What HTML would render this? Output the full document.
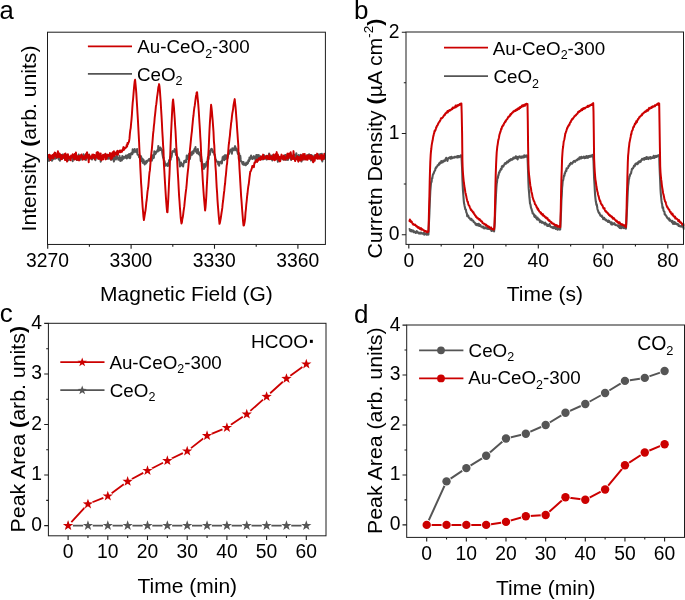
<!DOCTYPE html>
<html><head><meta charset="utf-8"><title>Figure</title>
<style>
html,body{margin:0;padding:0;background:#fff;}
body{width:685px;height:600px;overflow:hidden;font-family:'Liberation Sans', sans-serif;}
svg{display:block;will-change:transform;}
svg text{font-family:"Liberation Sans",sans-serif;}
</style></head>
<body>
<svg width="685" height="600" viewBox="0 0 685 600">
<rect x="0" y="0" width="685" height="600" fill="#ffffff"/>
<defs>
<clipPath id="ca"><rect x="47.5" y="32.2" width="277.9" height="212.25"/></clipPath>
</defs>
<g clip-path="url(#ca)">
<polyline points="47.5,161.7 47.9,159.1 48.3,157.4 48.7,158.7 49.1,160.9 49.5,157.2 49.9,157.0 50.3,159.5 50.7,158.4 51.1,158.7 51.5,156.8 51.9,160.7 52.3,160.3 52.7,158.5 53.1,158.7 53.5,154.4 53.9,158.6 54.3,157.3 54.7,158.3 55.1,158.7 55.5,157.1 55.9,154.9 56.3,158.2 56.7,156.4 57.1,157.1 57.5,156.6 57.9,157.1 58.3,153.9 58.7,159.5 59.1,158.0 59.5,159.4 59.9,160.8 60.3,157.6 60.7,154.7 61.1,156.2 61.5,155.7 61.9,156.8 62.3,157.7 62.7,154.4 63.1,158.1 63.5,155.2 63.9,158.1 64.3,157.4 64.7,157.1 65.1,157.5 65.5,156.7 65.9,156.6 66.3,154.9 66.7,157.6 67.1,160.6 67.5,160.8 67.9,159.7 68.3,158.7 68.7,156.5 69.1,159.9 69.5,157.5 69.9,157.5 70.3,157.1 70.7,157.7 71.1,156.9 71.5,157.5 71.9,155.9 72.3,157.0 72.7,161.2 73.1,157.5 73.5,157.2 73.9,158.5 74.3,158.7 74.7,155.8 75.1,157.3 75.5,159.1 75.9,158.0 76.3,157.8 76.7,160.1 77.1,156.5 77.5,157.7 77.9,156.8 78.3,160.0 78.7,154.5 79.1,156.5 79.5,156.8 79.9,158.7 80.3,158.6 80.7,159.8 81.1,155.1 81.5,158.8 81.9,157.1 82.3,156.5 82.7,158.5 83.1,156.1 83.5,154.3 83.9,157.0 84.3,155.2 84.7,156.6 85.1,158.2 85.5,158.1 85.9,160.1 86.3,157.3 86.7,155.1 87.1,156.4 87.5,156.1 87.9,155.7 88.3,158.3 88.7,156.6 89.1,154.4 89.5,158.7 89.9,157.4 90.3,158.2 90.7,157.8 91.1,158.6 91.5,157.7 91.9,159.6 92.3,158.3 92.7,158.2 93.1,158.3 93.5,155.3 93.9,157.3 94.3,157.2 94.7,157.9 95.1,155.4 95.5,160.2 95.9,157.8 96.3,155.7 96.7,154.9 97.1,157.1 97.5,157.5 97.9,156.5 98.3,157.7 98.7,156.6 99.1,158.5 99.5,156.4 99.9,157.5 100.3,159.2 100.7,161.7 101.1,156.0 101.5,156.9 101.9,156.3 102.3,158.9 102.7,155.8 103.1,156.8 103.5,157.6 103.9,156.0 104.3,156.1 104.7,156.8 105.1,154.2 105.5,155.3 105.9,156.9 106.3,157.8 106.7,157.3 107.1,154.8 107.5,156.9 107.9,158.9 108.3,158.5 108.7,157.5 109.1,156.2 109.5,158.6 109.9,156.7 110.3,155.7 110.7,156.3 111.1,159.9 111.5,158.0 111.9,159.5 112.3,156.8 112.7,159.1 113.1,156.6 113.5,157.3 113.9,161.6 114.3,158.8 114.7,156.8 115.1,157.5 115.5,158.1 115.9,159.5 116.3,156.8 116.7,154.8 117.1,157.2 117.5,157.6 117.9,157.8 118.3,159.7 118.7,158.1 119.1,158.9 119.5,155.8 119.9,159.0 120.3,161.0 120.7,158.8 121.1,158.0 121.5,157.8 121.9,160.4 122.3,156.1 122.7,157.4 123.1,158.3 123.5,158.7 123.9,156.8 124.3,157.9 124.7,157.0 125.1,157.6 125.5,157.1 125.9,155.5 126.3,157.2 126.7,158.6 127.1,155.6 127.5,156.7 127.9,157.8 128.3,154.7 128.7,156.3 129.1,153.9 129.5,156.9 129.9,158.3 130.3,157.4 130.7,153.4 131.1,154.5 131.5,153.0 131.9,152.5 132.3,154.3 132.7,149.2 133.1,152.5 133.5,150.4 133.9,152.4 134.3,150.3 134.7,148.9 135.1,150.6 135.5,151.6 135.9,150.9 136.3,152.1 136.7,151.0 137.1,149.0 137.5,154.5 137.9,154.9 138.3,154.7 138.7,155.2 139.1,157.4 139.5,155.6 139.9,155.7 140.3,157.1 140.7,159.8 141.1,156.3 141.5,161.0 141.9,158.6 142.3,158.5 142.7,162.8 143.1,161.1 143.5,159.6 143.9,161.5 144.3,163.8 144.7,164.4 145.1,161.8 145.5,163.1 145.9,163.5 146.3,161.1 146.7,162.5 147.1,161.7 147.5,160.5 147.9,160.3 148.3,160.8 148.7,160.4 149.1,159.0 149.5,158.8 149.9,160.9 150.3,159.0 150.7,159.7 151.1,159.8 151.5,158.4 151.9,160.7 152.3,155.4 152.7,157.6 153.1,155.3 153.5,158.3 153.9,157.6 154.3,151.2 154.7,152.2 155.1,154.3 155.5,153.9 155.9,153.3 156.3,151.5 156.7,151.9 157.1,151.7 157.5,150.1 157.9,151.5 158.3,145.9 158.7,150.2 159.1,147.4 159.5,150.4 159.9,148.4 160.3,147.5 160.7,149.9 161.1,148.5 161.5,149.5 161.9,149.6 162.3,153.3 162.7,155.5 163.1,157.9 163.5,157.5 163.9,160.9 164.3,160.6 164.7,161.8 165.1,164.0 165.5,165.8 165.9,164.3 166.3,164.9 166.7,165.2 167.1,165.5 167.5,163.5 167.9,166.0 168.3,162.9 168.7,163.3 169.1,160.1 169.5,160.8 169.9,159.7 170.3,157.1 170.7,159.8 171.1,155.9 171.5,157.1 171.9,154.7 172.3,151.3 172.7,151.1 173.1,151.9 173.5,151.1 173.9,151.1 174.3,150.9 174.7,148.9 175.1,152.1 175.5,149.7 175.9,154.8 176.3,154.0 176.7,155.1 177.1,157.0 177.5,158.9 177.9,157.3 178.3,157.8 178.7,159.9 179.1,159.3 179.5,161.8 179.9,166.5 180.3,162.8 180.7,165.8 181.1,162.6 181.5,165.2 181.9,164.1 182.3,164.2 182.7,164.9 183.1,166.5 183.5,163.5 183.9,162.9 184.3,160.7 184.7,162.6 185.1,160.7 185.5,161.9 185.9,159.9 186.3,162.1 186.7,155.6 187.1,157.7 187.5,159.1 187.9,156.6 188.3,155.4 188.7,155.9 189.1,153.7 189.5,155.7 189.9,159.1 190.3,156.6 190.7,152.7 191.1,152.6 191.5,153.0 191.9,154.9 192.3,151.6 192.7,151.4 193.1,153.6 193.5,153.3 193.9,151.0 194.3,149.5 194.7,148.6 195.1,149.7 195.5,147.1 195.9,151.7 196.3,149.4 196.7,151.1 197.1,153.3 197.5,152.4 197.9,149.1 198.3,153.0 198.7,154.3 199.1,152.3 199.5,153.1 199.9,155.7 200.3,154.7 200.7,160.9 201.1,156.1 201.5,159.5 201.9,162.1 202.3,163.4 202.7,165.1 203.1,166.2 203.5,166.2 203.9,168.9 204.3,164.0 204.7,167.5 205.1,166.0 205.5,166.7 205.9,165.9 206.3,162.9 206.7,161.9 207.1,162.7 207.5,160.3 207.9,157.0 208.3,159.7 208.7,158.5 209.1,151.0 209.5,152.5 209.9,154.9 210.3,151.4 210.7,150.0 211.1,149.2 211.5,148.8 211.9,149.7 212.3,149.6 212.7,152.3 213.1,151.3 213.5,152.1 213.9,151.8 214.3,154.6 214.7,154.3 215.1,156.5 215.5,159.5 215.9,159.5 216.3,160.7 216.7,161.3 217.1,161.7 217.5,162.1 217.9,162.4 218.3,164.5 218.7,161.8 219.1,165.7 219.5,163.6 219.9,162.2 220.3,162.4 220.7,161.8 221.1,162.8 221.5,161.0 221.9,163.5 222.3,159.9 222.7,157.0 223.1,158.9 223.5,156.3 223.9,158.9 224.3,160.1 224.7,158.9 225.1,155.1 225.5,155.5 225.9,159.1 226.3,156.2 226.7,155.3 227.1,156.6 227.5,158.4 227.9,156.2 228.3,153.9 228.7,153.8 229.1,153.8 229.5,151.4 229.9,150.2 230.3,151.6 230.7,149.5 231.1,150.6 231.5,150.4 231.9,153.7 232.3,148.2 232.7,149.1 233.1,148.8 233.5,149.6 233.9,150.4 234.3,147.8 234.7,147.3 235.1,146.1 235.5,147.5 235.9,150.2 236.3,150.0 236.7,148.9 237.1,150.7 237.5,152.2 237.9,153.9 238.3,153.1 238.7,154.7 239.1,153.2 239.5,155.4 239.9,160.8 240.3,155.8 240.7,159.7 241.1,161.6 241.5,161.5 241.9,161.6 242.3,163.5 242.7,164.1 243.1,164.4 243.5,161.9 243.9,164.8 244.3,163.6 244.7,163.9 245.1,164.9 245.5,165.2 245.9,165.2 246.3,162.4 246.7,164.2 247.1,164.1 247.5,163.5 247.9,163.4 248.3,160.4 248.7,160.0 249.1,161.2 249.5,157.4 249.9,159.6 250.3,158.1 250.7,158.0 251.1,155.5 251.5,156.6 251.9,157.8 252.3,159.1 252.7,159.1 253.1,157.4 253.5,157.2 253.9,156.1 254.3,158.1 254.7,157.0 255.1,158.4 255.5,160.2 255.9,157.3 256.3,155.0 256.7,156.0 257.1,155.0 257.5,155.4 257.9,159.4 258.3,157.7 258.7,154.9 259.1,158.3 259.5,159.3 259.9,156.7 260.3,156.2 260.7,156.8 261.1,157.8 261.5,158.3 261.9,159.2 262.3,159.2 262.7,159.2 263.1,159.5 263.5,158.4 263.9,154.9 264.3,157.1 264.7,157.8 265.1,156.7 265.5,158.8 265.9,156.7 266.3,155.8 266.7,159.6 267.1,158.4 267.5,157.7 267.9,158.8 268.3,159.0 268.7,157.8 269.1,153.4 269.5,156.2 269.9,156.6 270.3,155.7 270.7,157.6 271.1,159.2 271.5,156.5 271.9,155.5 272.3,160.5 272.7,156.6 273.1,155.3 273.5,157.7 273.9,158.0 274.3,156.2 274.7,158.6 275.1,156.5 275.5,155.8 275.9,157.6 276.3,158.5 276.7,156.3 277.1,157.8 277.5,157.2 277.9,161.8 278.3,156.2 278.7,159.5 279.1,157.2 279.5,157.1 279.9,158.5 280.3,158.7 280.7,159.3 281.1,157.8 281.5,156.3 281.9,156.4 282.3,158.1 282.7,158.2 283.1,159.5 283.5,158.0 283.9,159.0 284.3,159.7 284.7,157.6 285.1,154.9 285.5,155.4 285.9,155.0 286.3,159.8 286.7,155.9 287.1,159.3 287.5,158.2 287.9,160.0 288.3,158.9 288.7,157.1 289.1,157.0 289.5,157.4 289.9,157.6 290.3,156.5 290.7,157.2 291.1,159.9 291.5,154.6 291.9,157.7 292.3,155.8 292.7,157.6 293.1,158.6 293.5,157.2 293.9,158.5 294.3,154.8 294.7,159.1 295.1,156.3 295.5,158.3 295.9,157.6 296.3,153.2 296.7,156.1 297.1,157.7 297.5,159.8 297.9,157.8 298.3,157.7 298.7,155.0 299.1,159.6 299.5,160.2 299.9,157.3 300.3,156.9 300.7,154.7 301.1,158.7 301.5,161.6 301.9,158.4 302.3,159.3 302.7,158.2 303.1,155.7 303.5,159.4 303.9,155.3 304.3,157.0 304.7,157.7 305.1,158.7 305.5,158.0 305.9,157.9 306.3,156.1 306.7,155.2 307.1,157.4 307.5,156.2 307.9,155.2 308.3,155.3 308.7,156.5 309.1,154.3 309.5,155.1 309.9,154.7 310.3,157.6 310.7,158.0 311.1,160.5 311.5,154.9 311.9,156.2 312.3,158.8 312.7,157.0 313.1,156.8 313.5,160.0 313.9,156.8 314.3,155.5 314.7,155.2 315.1,157.8 315.5,157.8 315.9,155.1 316.3,155.7 316.7,158.2 317.1,158.2 317.5,156.3 317.9,158.3 318.3,158.2 318.7,154.4 319.1,156.8 319.5,158.0 319.9,156.4 320.3,153.9 320.7,156.8 321.1,158.5 321.5,159.8 321.9,153.8 322.3,161.5 322.7,155.5 323.1,158.8 323.5,159.3 323.9,158.9 324.3,157.5 324.7,155.4 325.1,158.3" fill="none" stroke="#555555" stroke-width="2.0" stroke-linejoin="round" stroke-linecap="butt" />
<polyline points="47.5,157.0 47.9,157.7 48.3,156.4 48.7,155.0 49.1,156.0 49.5,154.7 49.9,157.1 50.3,160.1 50.7,155.9 51.1,155.6 51.5,158.1 51.9,157.8 52.3,157.2 52.7,154.9 53.1,156.9 53.5,158.6 53.9,153.9 54.3,155.9 54.7,152.6 55.1,154.0 55.5,152.8 55.9,156.5 56.3,154.1 56.7,157.6 57.1,157.4 57.5,156.6 57.9,151.2 58.3,155.8 58.7,156.9 59.1,157.3 59.5,153.5 59.9,155.9 60.3,154.7 60.7,155.1 61.1,159.4 61.5,155.1 61.9,156.9 62.3,159.0 62.7,155.7 63.1,156.7 63.5,157.3 63.9,157.1 64.3,154.2 64.7,157.2 65.1,160.1 65.5,153.4 65.9,159.0 66.3,157.3 66.7,155.5 67.1,161.6 67.5,158.8 67.9,154.2 68.3,157.2 68.7,158.3 69.1,156.6 69.5,158.6 69.9,156.8 70.3,158.5 70.7,160.3 71.1,155.4 71.5,157.5 71.9,155.9 72.3,157.3 72.7,154.3 73.1,155.7 73.5,156.5 73.9,159.1 74.3,159.6 74.7,154.0 75.1,155.2 75.5,158.5 75.9,152.4 76.3,155.9 76.7,156.8 77.1,159.9 77.5,158.6 77.9,156.2 78.3,156.2 78.7,156.4 79.1,160.5 79.5,156.0 79.9,156.3 80.3,157.8 80.7,156.7 81.1,156.5 81.5,154.4 81.9,157.0 82.3,156.0 82.7,159.7 83.1,158.5 83.5,156.9 83.9,158.5 84.3,156.2 84.7,159.4 85.1,157.0 85.5,158.3 85.9,154.0 86.3,157.8 86.7,153.1 87.1,152.3 87.5,156.3 87.9,154.9 88.3,157.4 88.7,162.2 89.1,155.1 89.5,155.6 89.9,157.5 90.3,158.1 90.7,156.6 91.1,156.5 91.5,158.6 91.9,158.2 92.3,154.6 92.7,156.8 93.1,157.1 93.5,154.6 93.9,157.6 94.3,155.0 94.7,159.2 95.1,157.4 95.5,157.2 95.9,155.6 96.3,156.7 96.7,152.4 97.1,154.4 97.5,157.8 97.9,152.1 98.3,158.9 98.7,153.0 99.1,158.7 99.5,155.1 99.9,158.8 100.3,157.3 100.7,153.5 101.1,159.9 101.5,160.3 101.9,156.8 102.3,156.3 102.7,156.5 103.1,154.7 103.5,159.3 103.9,155.6 104.3,156.7 104.7,154.9 105.1,155.3 105.5,153.8 105.9,159.4 106.3,156.2 106.7,158.6 107.1,156.4 107.5,154.8 107.9,155.6 108.3,155.0 108.7,156.2 109.1,155.3 109.5,155.4 109.9,153.0 110.3,154.1 110.7,159.3 111.1,154.3 111.5,153.4 111.9,156.2 112.3,158.3 112.7,152.3 113.1,154.7 113.5,153.7 113.9,151.3 114.3,156.1 114.7,154.4 115.1,154.3 115.5,152.6 115.9,154.6 116.3,152.5 116.7,153.0 117.1,151.1 117.5,150.7 117.9,154.8 118.3,151.5 118.7,152.6 119.1,151.8 119.5,150.9 119.9,150.6 120.3,152.2 120.7,150.5 121.1,150.5 121.5,150.5 121.9,151.9 122.3,150.9 122.7,150.1 123.1,148.5 123.5,147.1 123.9,149.9 124.3,149.5 124.7,147.7 125.1,148.1 125.5,148.0 125.9,147.6 126.3,147.2 126.7,145.0 127.1,146.6 127.5,142.9 127.9,144.3 128.3,143.0 128.7,142.2 129.1,141.2 129.5,138.4 129.9,133.6 130.3,130.1 130.7,128.1 131.1,123.5 131.5,119.6 131.9,114.7 132.3,108.1 132.7,102.6 133.1,99.0 133.5,94.1 133.9,89.0 134.3,84.8 134.7,81.3 135.1,79.8 135.5,83.9 135.9,88.2 136.3,93.2 136.7,100.0 137.1,106.2 137.5,113.2 137.9,119.7 138.3,127.3 138.7,134.7 139.1,142.3 139.5,151.4 139.9,157.4 140.3,167.2 140.7,174.7 141.1,183.1 141.5,188.2 141.9,196.1 142.3,201.9 142.7,207.7 143.1,212.2 143.5,217.1 143.9,220.0 144.3,217.5 144.7,215.2 145.1,212.5 145.5,210.3 145.9,206.8 146.3,202.7 146.7,200.0 147.1,195.9 147.5,191.6 147.9,189.2 148.3,186.3 148.7,181.6 149.1,176.6 149.5,172.5 149.9,170.4 150.3,165.1 150.7,160.7 151.1,156.1 151.5,152.0 151.9,148.6 152.3,143.8 152.7,139.1 153.1,133.9 153.5,130.7 153.9,125.9 154.3,122.8 154.7,117.6 155.1,114.3 155.5,110.6 155.9,106.4 156.3,104.2 156.7,100.7 157.1,96.8 157.5,94.3 157.9,91.3 158.3,87.5 158.7,86.3 159.1,84.1 159.5,86.5 159.9,90.6 160.3,96.2 160.7,102.1 161.1,109.1 161.5,115.6 161.9,122.7 162.3,131.2 162.7,137.6 163.1,145.4 163.5,150.4 163.9,164.2 164.3,170.3 164.7,177.4 165.1,184.3 165.5,190.7 165.9,197.1 166.3,202.6 166.7,207.7 167.1,212.1 167.5,212.2 167.9,206.0 168.3,198.6 168.7,190.3 169.1,181.3 169.5,173.8 169.9,163.3 170.3,152.7 170.7,142.4 171.1,132.5 171.5,124.2 171.9,116.3 172.3,108.4 172.7,102.3 173.1,99.4 173.5,103.3 173.9,107.1 174.3,112.9 174.7,118.2 175.1,125.2 175.5,130.8 175.9,138.5 176.3,146.8 176.7,151.8 177.1,158.5 177.5,167.2 177.9,174.3 178.3,180.8 178.7,188.6 179.1,196.0 179.5,201.3 179.9,207.2 180.3,212.2 180.7,217.7 181.1,221.2 181.5,223.5 181.9,222.4 182.3,219.2 182.7,217.6 183.1,215.1 183.5,211.7 183.9,208.8 184.3,206.2 184.7,201.9 185.1,198.2 185.5,194.3 185.9,191.2 186.3,188.2 186.7,184.0 187.1,178.8 187.5,174.7 187.9,170.8 188.3,167.5 188.7,162.7 189.1,159.3 189.5,155.2 189.9,150.0 190.3,146.3 190.7,142.4 191.1,138.1 191.5,134.5 191.9,131.3 192.3,126.6 192.7,122.6 193.1,118.1 193.5,115.5 193.9,111.1 194.3,108.0 194.7,105.9 195.1,102.9 195.5,99.7 195.9,96.5 196.3,94.7 196.7,92.4 197.1,92.3 197.5,96.7 197.9,100.3 198.3,104.9 198.7,110.3 199.1,116.8 199.5,123.2 199.9,129.3 200.3,137.0 200.7,142.8 201.1,152.8 201.5,160.5 201.9,166.8 202.3,171.8 202.7,179.3 203.1,185.3 203.5,191.2 203.9,196.8 204.3,201.4 204.7,205.8 205.1,210.5 205.5,207.6 205.9,202.5 206.3,196.5 206.7,188.0 207.1,180.6 207.5,173.0 207.9,164.9 208.3,154.8 208.7,148.3 209.1,138.7 209.5,129.8 209.9,122.6 210.3,116.7 210.7,110.6 211.1,104.8 211.5,107.7 211.9,111.4 212.3,116.4 212.7,120.7 213.1,126.4 213.5,131.9 213.9,141.1 214.3,145.4 214.7,155.1 215.1,158.1 215.5,166.6 215.9,171.8 216.3,180.0 216.7,187.5 217.1,192.8 217.5,200.1 217.9,205.6 218.3,210.5 218.7,215.6 219.1,219.9 219.5,223.8 219.9,222.9 220.3,220.7 220.7,218.6 221.1,215.8 221.5,213.0 221.9,210.6 222.3,207.9 222.7,203.7 223.1,201.0 223.5,197.2 223.9,193.5 224.3,190.7 224.7,186.2 225.1,183.5 225.5,178.1 225.9,175.0 226.3,170.5 226.7,165.7 227.1,163.5 227.5,158.2 227.9,155.7 228.3,150.4 228.7,145.2 229.1,142.5 229.5,138.7 229.9,135.6 230.3,130.6 230.7,127.5 231.1,123.2 231.5,121.0 231.9,116.9 232.3,113.5 232.7,111.4 233.1,109.1 233.5,105.4 233.9,103.2 234.3,101.2 234.7,99.1 235.1,103.2 235.5,106.7 235.9,111.4 236.3,117.1 236.7,122.0 237.1,128.5 237.5,133.9 237.9,139.9 238.3,145.4 238.7,158.2 239.1,160.9 239.5,168.7 239.9,175.2 240.3,182.1 240.7,188.7 241.1,195.9 241.5,200.6 241.9,206.2 242.3,211.8 242.7,216.5 243.1,221.7 243.5,225.5 243.9,225.4 244.3,223.8 244.7,221.5 245.1,218.6 245.5,212.7 245.9,209.5 246.3,204.3 246.7,201.0 247.1,196.3 247.5,193.5 247.9,189.5 248.3,186.4 248.7,184.5 249.1,181.1 249.5,177.4 249.9,174.5 250.3,171.5 250.7,171.3 251.1,170.4 251.5,169.2 251.9,168.2 252.3,166.0 252.7,166.4 253.1,165.7 253.5,166.8 253.9,167.1 254.3,163.6 254.7,162.2 255.1,162.8 255.5,161.5 255.9,160.9 256.3,161.6 256.7,159.6 257.1,162.1 257.5,160.6 257.9,160.9 258.3,159.9 258.7,158.6 259.1,158.0 259.5,159.2 259.9,158.5 260.3,159.9 260.7,159.3 261.1,156.5 261.5,159.3 261.9,156.4 262.3,157.7 262.7,158.3 263.1,154.6 263.5,158.9 263.9,159.0 264.3,158.3 264.7,157.7 265.1,157.7 265.5,156.4 265.9,157.8 266.3,157.2 266.7,158.5 267.1,155.7 267.5,158.7 267.9,158.5 268.3,157.8 268.7,157.2 269.1,159.2 269.5,154.5 269.9,159.0 270.3,158.5 270.7,158.6 271.1,158.8 271.5,156.5 271.9,157.3 272.3,159.2 272.7,158.8 273.1,158.3 273.5,154.5 273.9,158.9 274.3,160.3 274.7,159.9 275.1,158.2 275.5,154.3 275.9,159.7 276.3,157.3 276.7,152.1 277.1,158.4 277.5,154.3 277.9,154.7 278.3,156.2 278.7,160.4 279.1,156.7 279.5,158.1 279.9,161.4 280.3,161.0 280.7,157.2 281.1,156.9 281.5,154.6 281.9,155.9 282.3,158.4 282.7,158.3 283.1,157.6 283.5,159.6 283.9,155.6 284.3,157.2 284.7,159.0 285.1,158.7 285.5,159.7 285.9,158.2 286.3,156.6 286.7,158.1 287.1,155.1 287.5,153.6 287.9,158.6 288.3,157.2 288.7,158.0 289.1,153.5 289.5,156.5 289.9,155.9 290.3,155.4 290.7,152.2 291.1,156.5 291.5,159.3 291.9,158.2 292.3,155.9 292.7,157.3 293.1,159.0 293.5,151.1 293.9,157.0 294.3,158.5 294.7,158.8 295.1,161.1 295.5,159.9 295.9,158.0 296.3,158.0 296.7,159.1 297.1,156.1 297.5,157.2 297.9,159.3 298.3,161.7 298.7,156.9 299.1,157.2 299.5,157.7 299.9,160.3 300.3,157.2 300.7,160.6 301.1,155.1 301.5,156.9 301.9,156.9 302.3,159.1 302.7,159.7 303.1,153.9 303.5,155.2 303.9,158.1 304.3,155.8 304.7,153.9 305.1,159.6 305.5,158.4 305.9,158.4 306.3,156.2 306.7,159.6 307.1,156.8 307.5,159.8 307.9,155.2 308.3,155.4 308.7,157.8 309.1,155.7 309.5,158.8 309.9,157.9 310.3,155.2 310.7,157.5 311.1,156.5 311.5,159.4 311.9,155.9 312.3,156.3 312.7,160.0 313.1,162.3 313.5,161.8 313.9,157.4 314.3,157.8 314.7,160.8 315.1,157.0 315.5,155.1 315.9,157.6 316.3,158.3 316.7,155.4 317.1,153.6 317.5,154.1 317.9,158.8 318.3,155.6 318.7,157.0 319.1,157.8 319.5,158.7 319.9,156.5 320.3,158.4 320.7,155.3 321.1,156.5 321.5,155.0 321.9,159.8 322.3,157.2 322.7,155.6 323.1,156.5 323.5,156.8 323.9,158.9 324.3,153.7 324.7,155.0 325.1,156.4" fill="none" stroke="#cc0000" stroke-width="1.95" stroke-linejoin="round" stroke-linecap="butt" />
</g>
<rect x="47.5" y="32.2" width="277.9" height="212.25" fill="none" stroke="#1c1c1c" stroke-width="1.0"/>
<path d="M47.70,244.45v4.2 M131.10,244.45v4.2 M214.50,244.45v4.2 M297.90,244.45v4.2" stroke="#1c1c1c" stroke-width="1.1" fill="none"/>
<path d="M89.40,244.45v2.2 M172.80,244.45v2.2 M256.20,244.45v2.2" stroke="#1c1c1c" stroke-width="1.1" fill="none"/>
<text x="47.5" y="266.6" font-size="19.3" text-anchor="middle" fill="#000" >3270</text>
<text x="130.9" y="266.6" font-size="19.3" text-anchor="middle" fill="#000" >3300</text>
<text x="214.3" y="266.6" font-size="19.3" text-anchor="middle" fill="#000" >3330</text>
<text x="297.7" y="266.6" font-size="19.3" text-anchor="middle" fill="#000" >3360</text>
<text x="186.45" y="301.2" font-size="21" text-anchor="middle" fill="#000" >Magnetic Field (G)</text>
<text transform="translate(36.25,231.5) rotate(-90)" font-size="21" text-anchor="start" fill="#000" textLength="186" lengthAdjust="spacingAndGlyphs">Intensity <tspan font-weight="bold">(</tspan>arb. units)</text>
<text x="-0.6" y="19.2" font-size="25.6" text-anchor="start" fill="#000" >a</text>
<path d="M87.9,46.3H132" stroke="#cc0000" stroke-width="1.8"/>
<path d="M87.9,73.9H132" stroke="#555555" stroke-width="1.8"/>
<text x="137.3" y="53.1" font-size="18.8" text-anchor="start" fill="#000" >Au-CeO<tspan font-size="12.5" dy="4.7">2</tspan><tspan dy="-4.7">-300</tspan></text>
<text x="136.9" y="80.7" font-size="18.8" text-anchor="start" fill="#000" >CeO<tspan font-size="12.5" dy="4.7">2</tspan></text>
<defs>
<clipPath id="cb"><rect x="406.0" y="32.0" width="278.5" height="212.4"/></clipPath>
</defs>
<g clip-path="url(#cb)">
<polyline points="409.3,229.4 409.6,229.0 409.9,230.2 410.3,230.9 410.6,230.9 410.9,230.1 411.2,231.4 411.6,230.0 411.9,230.2 412.2,231.1 412.5,230.8 412.8,230.8 413.2,230.5 413.5,232.1 413.8,230.9 414.1,231.9 414.5,232.2 414.8,231.8 415.1,232.0 415.4,232.6 415.8,233.0 416.1,232.7 416.4,231.3 416.7,231.1 417.1,232.0 417.4,231.7 417.7,232.8 418.0,232.6 418.4,232.5 418.7,233.4 419.0,233.4 419.3,232.8 419.6,233.1 420.0,233.6 420.3,232.8 420.6,233.3 420.9,232.5 421.3,233.2 421.6,233.4 421.9,233.2 422.2,233.5 422.6,233.8 422.9,233.7 423.2,233.1 423.5,233.2 423.9,232.8 424.2,234.7 424.5,233.9 424.8,234.0 425.1,233.7 425.5,234.1 425.8,234.2 426.1,233.4 426.4,233.9 426.8,234.7 427.1,233.2 427.4,233.5 427.7,234.5 428.1,233.6 428.4,234.6 428.7,228.2 429.0,221.9 429.4,213.8 429.7,205.3 430.0,197.7 430.3,191.2 430.7,186.5 431.0,183.2 431.3,181.6 431.6,181.9 431.9,178.3 432.3,178.4 432.6,176.1 432.9,174.6 433.2,174.1 433.6,173.6 433.9,172.6 434.2,171.8 434.5,171.3 434.9,170.6 435.2,170.2 435.5,168.2 435.8,168.3 436.2,167.2 436.5,167.4 436.8,166.7 437.1,166.4 437.5,165.6 437.8,165.1 438.1,165.1 438.4,165.3 438.7,165.1 439.1,163.3 439.4,164.2 439.7,163.9 440.0,162.6 440.4,162.5 440.7,162.6 441.0,162.9 441.3,161.0 441.7,161.9 442.0,161.6 442.3,161.8 442.6,162.3 443.0,162.0 443.3,160.7 443.6,160.5 443.9,160.7 444.3,161.1 444.6,161.1 444.9,160.2 445.2,160.7 445.5,159.1 445.9,158.8 446.2,157.7 446.5,158.7 446.8,159.4 447.2,159.5 447.5,160.9 447.8,159.0 448.1,158.7 448.5,157.9 448.8,158.0 449.1,157.9 449.4,158.0 449.8,157.7 450.1,157.1 450.4,158.6 450.7,158.1 451.0,158.6 451.4,156.8 451.7,156.9 452.0,157.2 452.3,158.3 452.7,157.5 453.0,157.7 453.3,157.4 453.6,157.5 454.0,157.1 454.3,157.6 454.6,156.8 454.9,157.1 455.3,157.3 455.6,157.2 455.9,157.3 456.2,156.5 456.6,157.0 456.9,156.6 457.2,157.0 457.5,157.5 457.8,156.0 458.2,157.1 458.5,156.0 458.8,156.1 459.1,157.2 459.5,156.7 459.8,156.4 460.1,156.5 460.4,156.7 460.8,155.4 461.1,156.0 461.4,155.5 461.7,160.3 462.1,168.8 462.4,179.2 462.7,185.7 463.0,191.0 463.4,196.0 463.7,200.0 464.0,203.0 464.3,204.3 464.6,205.9 465.0,207.7 465.3,209.3 465.6,209.7 465.9,209.6 466.3,212.3 466.6,212.9 466.9,213.7 467.2,216.2 467.6,215.2 467.9,216.2 468.2,215.5 468.5,216.9 468.9,217.7 469.2,217.7 469.5,217.9 469.8,218.7 470.2,218.7 470.5,219.8 470.8,219.5 471.1,219.2 471.4,218.8 471.8,219.9 472.1,220.5 472.4,220.2 472.7,220.6 473.1,220.5 473.4,221.1 473.7,222.1 474.0,222.1 474.4,222.4 474.7,222.6 475.0,222.9 475.3,223.7 475.7,224.7 476.0,224.0 476.3,225.0 476.6,223.9 476.9,224.1 477.3,225.3 477.6,224.0 477.9,224.1 478.2,224.7 478.6,223.9 478.9,223.9 479.2,226.0 479.5,224.7 479.9,225.2 480.2,225.4 480.5,225.2 480.8,226.4 481.2,226.5 481.5,226.7 481.8,226.8 482.1,226.6 482.5,227.5 482.8,227.4 483.1,226.6 483.4,227.1 483.7,227.0 484.1,228.5 484.4,227.9 484.7,227.9 485.0,227.7 485.4,228.2 485.7,227.4 486.0,228.1 486.3,228.2 486.7,228.3 487.0,228.0 487.3,228.8 487.6,227.9 488.0,228.5 488.3,228.7 488.6,228.9 488.9,228.7 489.3,228.5 489.6,228.7 489.9,229.1 490.2,228.9 490.5,229.4 490.9,228.8 491.2,229.7 491.5,231.0 491.8,229.1 492.2,229.9 492.5,230.7 492.8,230.2 493.1,230.7 493.5,229.0 493.8,230.0 494.1,231.4 494.4,228.0 494.8,222.4 495.1,213.5 495.4,207.2 495.7,200.2 496.1,192.1 496.4,187.4 496.7,183.6 497.0,182.2 497.3,179.0 497.7,176.9 498.0,177.9 498.3,175.0 498.6,175.2 499.0,172.4 499.3,172.7 499.6,172.2 499.9,170.7 500.3,170.3 500.6,170.3 500.9,168.8 501.2,168.9 501.6,169.1 501.9,166.2 502.2,167.1 502.5,166.8 502.8,165.8 503.2,166.6 503.5,166.1 503.8,165.2 504.1,164.9 504.5,164.3 504.8,163.3 505.1,164.0 505.4,163.2 505.8,162.9 506.1,163.6 506.4,162.6 506.7,163.0 507.1,161.6 507.4,161.7 507.7,161.7 508.0,162.3 508.4,161.2 508.7,161.5 509.0,160.4 509.3,160.7 509.6,160.9 510.0,159.7 510.3,159.6 510.6,160.2 510.9,159.0 511.3,159.8 511.6,159.6 511.9,159.2 512.2,159.6 512.6,159.3 512.9,159.0 513.2,157.8 513.5,157.7 513.9,158.6 514.2,157.4 514.5,158.3 514.8,157.9 515.2,157.5 515.5,157.8 515.8,156.4 516.1,157.7 516.4,158.5 516.8,156.9 517.1,157.9 517.4,157.8 517.7,159.4 518.1,156.9 518.4,157.0 518.7,157.0 519.0,156.8 519.4,156.3 519.7,157.4 520.0,156.7 520.3,157.7 520.7,157.4 521.0,156.5 521.3,156.8 521.6,157.8 522.0,156.7 522.3,157.0 522.6,157.3 522.9,156.4 523.2,156.9 523.6,157.5 523.9,157.1 524.2,155.3 524.5,157.2 524.9,156.1 525.2,155.8 525.5,155.7 525.8,156.8 526.2,156.2 526.5,155.8 526.8,155.4 527.1,156.2 527.5,156.4 527.8,163.6 528.1,173.0 528.4,181.8 528.7,188.4 529.1,192.9 529.4,197.2 529.7,199.8 530.0,203.3 530.4,204.3 530.7,206.0 531.0,207.9 531.3,208.3 531.7,209.6 532.0,210.9 532.3,211.4 532.6,213.3 533.0,213.3 533.3,213.6 533.6,214.3 533.9,214.3 534.3,216.2 534.6,216.8 534.9,216.2 535.2,216.4 535.5,215.7 535.9,217.0 536.2,218.3 536.5,217.6 536.8,218.9 537.2,219.6 537.5,217.5 537.8,219.1 538.1,219.2 538.5,219.6 538.8,219.1 539.1,220.3 539.4,220.0 539.8,221.6 540.1,222.1 540.4,220.6 540.7,220.8 541.1,221.6 541.4,222.0 541.7,222.2 542.0,222.9 542.3,221.7 542.7,222.4 543.0,222.7 543.3,222.9 543.6,222.7 544.0,223.2 544.3,223.2 544.6,224.5 544.9,223.6 545.3,222.7 545.6,224.5 545.9,224.4 546.2,224.0 546.6,224.1 546.9,224.4 547.2,225.9 547.5,224.8 547.9,225.9 548.2,225.9 548.5,225.2 548.8,225.8 549.1,225.3 549.5,224.0 549.8,225.5 550.1,225.7 550.4,226.8 550.8,226.8 551.1,227.2 551.4,227.0 551.7,227.4 552.1,227.3 552.4,227.1 552.7,227.7 553.0,228.1 553.4,228.1 553.7,227.1 554.0,227.5 554.3,227.0 554.6,227.1 555.0,228.0 555.3,227.5 555.6,228.9 555.9,226.7 556.3,227.4 556.6,228.4 556.9,229.1 557.2,228.2 557.6,229.7 557.9,229.1 558.2,228.2 558.5,228.7 558.9,229.1 559.2,228.3 559.5,229.6 559.8,228.9 560.2,229.4 560.5,224.6 560.8,217.2 561.1,210.2 561.4,200.7 561.8,194.9 562.1,187.8 562.4,185.2 562.7,181.1 563.1,180.4 563.4,178.9 563.7,176.8 564.0,175.5 564.4,175.7 564.7,173.3 565.0,173.6 565.3,172.2 565.7,171.2 566.0,170.3 566.3,171.1 566.6,168.4 567.0,168.4 567.3,168.4 567.6,168.1 567.9,168.0 568.2,167.3 568.6,165.7 568.9,165.8 569.2,165.9 569.5,165.2 569.9,163.7 570.2,164.5 570.5,164.4 570.8,162.9 571.2,163.2 571.5,163.2 571.8,163.3 572.1,163.7 572.5,163.2 572.8,162.5 573.1,162.1 573.4,161.5 573.8,161.2 574.1,161.1 574.4,160.9 574.7,161.5 575.0,161.9 575.4,160.8 575.7,160.8 576.0,160.5 576.3,160.1 576.7,160.5 577.0,160.3 577.3,159.5 577.6,159.2 578.0,159.5 578.3,158.7 578.6,159.0 578.9,159.4 579.3,158.6 579.6,157.3 579.9,158.8 580.2,157.6 580.5,157.3 580.9,157.2 581.2,158.5 581.5,156.7 581.8,157.8 582.2,157.9 582.5,157.9 582.8,157.3 583.1,157.6 583.5,157.7 583.8,156.7 584.1,157.9 584.4,158.1 584.8,156.9 585.1,156.9 585.4,156.7 585.7,157.9 586.1,156.6 586.4,156.9 586.7,156.1 587.0,157.8 587.3,156.9 587.7,157.1 588.0,157.8 588.3,157.2 588.6,156.0 589.0,156.9 589.3,157.0 589.6,156.0 589.9,155.8 590.3,155.7 590.6,156.7 590.9,156.2 591.2,155.5 591.6,156.5 591.9,156.4 592.2,155.4 592.5,154.9 592.9,156.5 593.2,157.3 593.5,160.8 593.8,169.2 594.1,178.1 594.5,184.3 594.8,190.2 595.1,195.1 595.4,198.1 595.8,201.3 596.1,202.8 596.4,204.8 596.7,204.1 597.1,206.5 597.4,208.7 597.7,209.9 598.0,210.5 598.4,212.1 598.7,212.4 599.0,213.1 599.3,212.7 599.7,214.0 600.0,214.7 600.3,215.5 600.6,215.8 600.9,215.5 601.3,216.0 601.6,215.5 601.9,216.9 602.2,216.2 602.6,217.0 602.9,217.5 603.2,219.1 603.5,218.9 603.9,218.0 604.2,217.9 604.5,218.9 604.8,218.8 605.2,219.8 605.5,220.0 605.8,220.4 606.1,219.7 606.4,220.3 606.8,220.8 607.1,221.1 607.4,220.8 607.7,221.1 608.1,222.0 608.4,220.6 608.7,221.6 609.0,222.0 609.4,221.2 609.7,221.7 610.0,222.5 610.3,222.2 610.7,223.4 611.0,223.3 611.3,224.4 611.6,222.4 612.0,224.4 612.3,223.0 612.6,224.1 612.9,224.3 613.2,224.0 613.6,223.8 613.9,223.8 614.2,223.2 614.5,224.2 614.9,224.0 615.2,225.0 615.5,224.4 615.8,224.8 616.2,225.3 616.5,225.2 616.8,225.3 617.1,225.3 617.5,225.3 617.8,225.9 618.1,226.2 618.4,225.4 618.8,227.0 619.1,226.4 619.4,225.2 619.7,227.9 620.0,226.8 620.4,226.0 620.7,227.6 621.0,225.1 621.3,228.3 621.7,226.0 622.0,226.0 622.3,226.5 622.6,227.2 623.0,227.0 623.3,227.8 623.6,226.9 623.9,228.1 624.3,227.7 624.6,227.0 624.9,228.3 625.2,228.0 625.6,227.7 625.9,228.7 626.2,225.1 626.5,219.7 626.8,213.6 627.2,204.9 627.5,197.9 627.8,191.3 628.1,186.1 628.5,182.8 628.8,179.5 629.1,178.9 629.4,176.5 629.8,176.0 630.1,174.5 630.4,174.5 630.7,173.6 631.1,173.1 631.4,171.2 631.7,170.2 632.0,168.8 632.3,168.6 632.7,168.7 633.0,168.3 633.3,167.4 633.6,167.1 634.0,165.7 634.3,165.5 634.6,166.2 634.9,165.7 635.3,164.1 635.6,164.4 635.9,164.4 636.2,163.3 636.6,164.0 636.9,163.6 637.2,163.5 637.5,164.2 637.9,162.2 638.2,163.2 638.5,162.6 638.8,162.4 639.1,161.3 639.5,161.6 639.8,161.3 640.1,162.1 640.4,160.9 640.8,161.6 641.1,160.3 641.4,160.0 641.7,160.1 642.1,158.7 642.4,159.4 642.7,159.2 643.0,159.4 643.4,159.4 643.7,158.6 644.0,158.3 644.3,159.7 644.7,158.1 645.0,158.3 645.3,157.9 645.6,158.1 645.9,159.0 646.3,158.9 646.6,157.0 646.9,157.8 647.2,158.8 647.6,157.6 647.9,158.0 648.2,158.8 648.5,159.1 648.9,158.6 649.2,157.4 649.5,157.5 649.8,157.6 650.2,157.3 650.5,157.0 650.8,158.6 651.1,157.5 651.5,157.8 651.8,158.0 652.1,157.5 652.4,157.2 652.7,157.2 653.1,157.9 653.4,157.2 653.7,155.7 654.0,157.5 654.4,157.8 654.7,156.5 655.0,156.2 655.3,156.2 655.7,157.1 656.0,155.8 656.3,156.8 656.6,156.9 657.0,156.5 657.3,156.2 657.6,155.6 657.9,155.6 658.2,155.9 658.6,155.3 658.9,155.7 659.2,155.2 659.5,165.2 659.9,174.8 660.2,181.8 660.5,189.1 660.8,193.6 661.2,197.6 661.5,200.9 661.8,203.2 662.1,203.9 662.5,207.8 662.8,207.1 663.1,207.4 663.4,210.0 663.8,211.0 664.1,211.6 664.4,211.7 664.7,214.4 665.0,214.2 665.4,215.0 665.7,215.1 666.0,215.8 666.3,215.9 666.7,217.0 667.0,217.1 667.3,217.9 667.6,218.2 668.0,218.2 668.3,218.6 668.6,219.5 668.9,218.2 669.3,219.6 669.6,220.6 669.9,219.4 670.2,220.8 670.6,220.3 670.9,220.9 671.2,221.0 671.5,221.3 671.8,222.0 672.2,221.9 672.5,220.9 672.8,223.7 673.1,222.5 673.5,222.5 673.8,223.6 674.1,223.9 674.4,222.0 674.8,223.7 675.1,222.4 675.4,223.5 675.7,223.9 676.1,223.8 676.4,223.9 676.7,223.7 677.0,224.3 677.4,224.6 677.7,224.7 678.0,224.2 678.3,224.6 678.6,225.9 679.0,225.8 679.3,225.4 679.6,226.1 679.9,226.1 680.3,226.5 680.6,226.3 680.9,226.0 681.2,225.8 681.6,226.5 681.9,225.4 682.2,226.8 682.5,224.9 682.9,226.4 683.2,226.8 683.5,227.5 683.8,229.1 684.1,227.6 684.5,227.5 684.8,226.5" fill="none" stroke="#555555" stroke-width="2.1" stroke-linejoin="round" stroke-linecap="butt" />
<polyline points="409.3,220.2 409.6,221.3 409.9,219.5 410.3,220.7 410.6,220.5 410.9,222.0 411.2,221.3 411.6,221.6 411.9,221.9 412.2,222.8 412.5,223.6 412.8,223.5 413.2,224.6 413.5,224.6 413.8,224.2 414.1,224.9 414.5,224.8 414.8,225.0 415.1,224.5 415.4,225.0 415.8,225.7 416.1,225.5 416.4,226.5 416.7,226.5 417.1,226.3 417.4,227.3 417.7,227.2 418.0,227.8 418.4,227.4 418.7,227.0 419.0,228.2 419.3,227.9 419.6,228.6 420.0,228.9 420.3,229.1 420.6,228.2 420.9,228.0 421.3,228.9 421.6,229.6 421.9,229.1 422.2,229.7 422.6,229.4 422.9,229.8 423.2,229.9 423.5,229.9 423.9,230.6 424.2,230.6 424.5,231.3 424.8,230.9 425.1,231.5 425.5,231.1 425.8,231.5 426.1,231.2 426.4,231.2 426.8,232.1 427.1,231.9 427.4,232.1 427.7,231.5 428.1,231.3 428.4,231.7 428.7,223.6 429.0,210.6 429.4,196.3 429.7,182.1 430.0,170.8 430.3,162.1 430.7,154.6 431.0,151.2 431.3,149.0 431.6,145.9 431.9,143.9 432.3,141.8 432.6,140.6 432.9,138.7 433.2,136.7 433.6,135.4 433.9,133.7 434.2,133.0 434.5,131.0 434.9,131.3 435.2,130.0 435.5,130.1 435.8,129.0 436.2,127.2 436.5,127.4 436.8,126.1 437.1,125.7 437.5,125.5 437.8,124.6 438.1,124.1 438.4,123.5 438.7,122.5 439.1,122.0 439.4,121.9 439.7,121.6 440.0,120.6 440.4,120.3 440.7,119.3 441.0,118.2 441.3,118.5 441.7,118.4 442.0,118.0 442.3,117.9 442.6,117.5 443.0,117.1 443.3,116.5 443.6,116.1 443.9,115.3 444.3,115.4 444.6,115.0 444.9,115.0 445.2,113.6 445.5,113.7 445.9,112.9 446.2,113.0 446.5,112.4 446.8,112.8 447.2,112.1 447.5,111.1 447.8,112.4 448.1,111.2 448.5,110.7 448.8,111.0 449.1,110.6 449.4,110.1 449.8,110.7 450.1,110.0 450.4,110.3 450.7,110.0 451.0,109.7 451.4,109.3 451.7,109.0 452.0,108.6 452.3,109.2 452.7,107.6 453.0,107.7 453.3,107.7 453.6,107.9 454.0,107.6 454.3,107.2 454.6,107.0 454.9,107.7 455.3,106.5 455.6,105.5 455.9,107.3 456.2,105.9 456.6,106.1 456.9,106.1 457.2,105.4 457.5,106.3 457.8,105.6 458.2,104.9 458.5,105.4 458.8,105.3 459.1,105.0 459.5,105.0 459.8,104.0 460.1,104.8 460.4,103.9 460.8,104.5 461.1,103.5 461.4,103.5 461.7,113.4 462.1,133.3 462.4,160.0 462.7,169.8 463.0,173.8 463.4,178.2 463.7,181.3 464.0,183.0 464.3,186.0 464.6,187.5 465.0,189.9 465.3,192.2 465.6,193.6 465.9,194.7 466.3,196.3 466.6,198.1 466.9,199.4 467.2,200.6 467.6,201.9 467.9,201.8 468.2,203.6 468.5,204.9 468.9,205.4 469.2,205.6 469.5,206.4 469.8,207.3 470.2,208.2 470.5,208.5 470.8,209.8 471.1,210.2 471.4,209.8 471.8,210.9 472.1,211.0 472.4,211.2 472.7,211.9 473.1,212.6 473.4,212.1 473.7,213.2 474.0,214.0 474.4,214.0 474.7,214.5 475.0,215.4 475.3,215.4 475.7,215.9 476.0,217.0 476.3,216.6 476.6,217.0 476.9,217.4 477.3,218.2 477.6,218.0 477.9,218.2 478.2,218.4 478.6,219.2 478.9,218.8 479.2,219.8 479.5,219.7 479.9,219.4 480.2,220.5 480.5,220.7 480.8,220.4 481.2,221.2 481.5,221.5 481.8,221.6 482.1,221.5 482.5,223.1 482.8,222.9 483.1,223.2 483.4,223.5 483.7,223.7 484.1,224.0 484.4,223.7 484.7,224.5 485.0,224.3 485.4,224.5 485.7,225.2 486.0,225.1 486.3,224.7 486.7,225.5 487.0,226.1 487.3,226.1 487.6,226.6 488.0,226.3 488.3,226.3 488.6,227.2 488.9,227.2 489.3,226.8 489.6,227.7 489.9,227.6 490.2,228.3 490.5,228.4 490.9,228.4 491.2,227.5 491.5,228.8 491.8,229.0 492.2,229.2 492.5,229.2 492.8,229.0 493.1,229.3 493.5,228.7 493.8,229.6 494.1,229.3 494.4,226.3 494.8,215.7 495.1,202.4 495.4,187.6 495.7,175.3 496.1,164.4 496.4,157.9 496.7,152.5 497.0,149.5 497.3,146.7 497.7,144.3 498.0,142.2 498.3,140.1 498.6,139.1 499.0,137.4 499.3,135.5 499.6,134.2 499.9,133.3 500.3,132.2 500.6,131.4 500.9,130.1 501.2,128.8 501.6,128.9 501.9,127.1 502.2,126.6 502.5,126.5 502.8,125.3 503.2,125.6 503.5,125.1 503.8,124.3 504.1,123.4 504.5,122.8 504.8,122.4 505.1,121.6 505.4,122.0 505.8,120.5 506.1,120.7 506.4,120.0 506.7,119.4 507.1,119.2 507.4,118.9 507.7,118.3 508.0,117.5 508.4,116.8 508.7,116.5 509.0,116.7 509.3,116.2 509.6,115.9 510.0,115.0 510.3,115.7 510.6,114.0 510.9,114.4 511.3,114.2 511.6,113.4 511.9,112.9 512.2,112.8 512.6,112.3 512.9,112.4 513.2,111.6 513.5,111.4 513.9,111.7 514.2,110.8 514.5,111.1 514.8,110.8 515.2,111.0 515.5,110.5 515.8,109.8 516.1,110.5 516.4,109.4 516.8,109.3 517.1,109.1 517.4,109.9 517.7,108.9 518.1,108.3 518.4,108.7 518.7,108.2 519.0,109.0 519.4,107.5 519.7,107.9 520.0,107.1 520.3,108.0 520.7,106.8 521.0,107.0 521.3,106.4 521.6,106.9 522.0,106.6 522.3,105.3 522.6,106.4 522.9,106.2 523.2,105.9 523.6,106.1 523.9,105.0 524.2,104.7 524.5,105.5 524.9,105.8 525.2,104.4 525.5,104.3 525.8,104.2 526.2,103.9 526.5,104.5 526.8,103.9 527.1,104.2 527.5,104.0 527.8,121.3 528.1,146.5 528.4,164.0 528.7,170.9 529.1,175.0 529.4,177.5 529.7,180.0 530.0,183.0 530.4,185.9 530.7,187.3 531.0,188.7 531.3,191.2 531.7,192.9 532.0,193.7 532.3,195.5 532.6,197.3 533.0,198.2 533.3,199.5 533.6,200.1 533.9,201.1 534.3,201.5 534.6,202.5 534.9,204.2 535.2,204.1 535.5,204.5 535.9,205.3 536.2,205.7 536.5,206.9 536.8,207.6 537.2,207.4 537.5,208.7 537.8,209.7 538.1,208.8 538.5,210.0 538.8,210.3 539.1,211.2 539.4,211.6 539.8,211.9 540.1,212.0 540.4,212.1 540.7,213.6 541.1,212.7 541.4,213.9 541.7,214.2 542.0,213.8 542.3,214.4 542.7,215.4 543.0,214.3 543.3,215.7 543.6,215.6 544.0,215.9 544.3,215.7 544.6,216.8 544.9,216.5 545.3,217.5 545.6,217.0 545.9,218.0 546.2,218.2 546.6,217.5 546.9,218.5 547.2,218.8 547.5,218.2 547.9,219.3 548.2,220.0 548.5,219.7 548.8,220.7 549.1,220.1 549.5,220.3 549.8,221.3 550.1,221.6 550.4,221.5 550.8,221.8 551.1,222.5 551.4,222.1 551.7,223.4 552.1,223.0 552.4,223.2 552.7,223.4 553.0,223.4 553.4,224.2 553.7,223.7 554.0,224.2 554.3,224.6 554.6,225.1 555.0,225.2 555.3,224.8 555.6,225.5 555.9,225.2 556.3,225.0 556.6,225.2 556.9,225.2 557.2,226.1 557.6,226.6 557.9,225.9 558.2,226.4 558.5,226.2 558.9,226.8 559.2,226.5 559.5,226.8 559.8,227.0 560.2,227.2 560.5,219.0 560.8,207.2 561.1,192.3 561.4,179.4 561.8,168.3 562.1,158.2 562.4,153.8 562.7,149.7 563.1,147.0 563.4,144.5 563.7,141.5 564.0,140.6 564.4,139.2 564.7,137.4 565.0,135.8 565.3,133.4 565.7,133.0 566.0,131.6 566.3,131.4 566.6,129.9 567.0,128.9 567.3,127.6 567.6,127.9 567.9,126.6 568.2,126.0 568.6,125.9 568.9,124.9 569.2,124.4 569.5,124.6 569.9,122.9 570.2,122.4 570.5,122.2 570.8,122.1 571.2,120.4 571.5,120.5 571.8,119.7 572.1,119.0 572.5,119.4 572.8,118.4 573.1,118.3 573.4,117.9 573.8,117.4 574.1,117.0 574.4,116.2 574.7,116.2 575.0,115.9 575.4,115.6 575.7,115.0 576.0,115.2 576.3,114.7 576.7,114.2 577.0,114.1 577.3,113.6 577.6,113.5 578.0,112.1 578.3,112.1 578.6,112.2 578.9,112.1 579.3,111.0 579.6,111.5 579.9,111.4 580.2,111.0 580.5,110.7 580.9,110.0 581.2,110.4 581.5,109.3 581.8,110.3 582.2,109.4 582.5,109.9 582.8,108.5 583.1,109.2 583.5,108.8 583.8,108.2 584.1,107.9 584.4,108.6 584.8,108.1 585.1,108.4 585.4,107.6 585.7,107.5 586.1,107.4 586.4,107.3 586.7,107.0 587.0,107.0 587.3,106.3 587.7,105.8 588.0,107.0 588.3,106.2 588.6,106.1 589.0,105.6 589.3,106.1 589.6,105.6 589.9,105.8 590.3,105.0 590.6,105.1 590.9,105.0 591.2,104.6 591.6,104.7 591.9,105.0 592.2,104.0 592.5,103.9 592.9,103.8 593.2,103.1 593.5,111.6 593.8,132.9 594.1,158.3 594.5,167.2 594.8,172.0 595.1,176.1 595.4,179.3 595.8,181.7 596.1,184.0 596.4,186.5 596.7,187.8 597.1,190.1 597.4,191.7 597.7,192.4 598.0,194.5 598.4,195.6 598.7,196.6 599.0,197.7 599.3,199.2 599.7,200.0 600.0,201.3 600.3,201.0 600.6,202.3 600.9,203.7 601.3,203.9 601.6,204.3 601.9,205.0 602.2,205.0 602.6,205.7 602.9,207.0 603.2,207.4 603.5,208.4 603.9,208.2 604.2,208.7 604.5,208.2 604.8,209.7 605.2,211.0 605.5,210.8 605.8,210.9 606.1,211.9 606.4,212.1 606.8,212.3 607.1,212.3 607.4,212.9 607.7,213.5 608.1,213.2 608.4,214.1 608.7,214.4 609.0,215.1 609.4,215.1 609.7,214.8 610.0,216.1 610.3,215.7 610.7,215.7 611.0,216.4 611.3,216.5 611.6,217.3 612.0,216.6 612.3,217.0 612.6,217.6 612.9,218.7 613.2,218.7 613.6,218.1 613.9,218.1 614.2,219.0 614.5,218.9 614.9,219.9 615.2,220.0 615.5,220.2 615.8,220.3 616.2,221.3 616.5,220.6 616.8,220.7 617.1,221.9 617.5,222.2 617.8,221.8 618.1,222.4 618.4,223.3 618.8,222.3 619.1,222.7 619.4,223.2 619.7,222.4 620.0,223.4 620.4,223.9 620.7,223.8 621.0,224.4 621.3,224.5 621.7,224.2 622.0,224.8 622.3,224.9 622.6,224.3 623.0,224.8 623.3,225.0 623.6,225.2 623.9,225.4 624.3,225.2 624.6,225.9 624.9,225.3 625.2,226.6 625.6,226.5 625.9,227.1 626.2,223.3 626.5,212.7 626.8,198.7 627.2,185.6 627.5,173.3 627.8,162.8 628.1,155.9 628.5,152.0 628.8,148.1 629.1,146.1 629.4,143.0 629.8,141.1 630.1,139.6 630.4,138.1 630.7,136.7 631.1,134.0 631.4,134.0 631.7,131.7 632.0,131.0 632.3,130.4 632.7,129.9 633.0,128.2 633.3,127.1 633.6,127.4 634.0,126.5 634.3,125.3 634.6,124.9 634.9,123.6 635.3,124.1 635.6,123.0 635.9,123.2 636.2,121.3 636.6,122.0 636.9,122.1 637.2,120.7 637.5,120.3 637.9,119.0 638.2,119.4 638.5,118.8 638.8,118.1 639.1,117.3 639.5,117.5 639.8,116.7 640.1,116.5 640.4,116.5 640.8,115.9 641.1,115.6 641.4,115.6 641.7,114.4 642.1,115.1 642.4,113.8 642.7,113.5 643.0,113.6 643.4,113.6 643.7,113.1 644.0,112.5 644.3,112.2 644.7,112.1 645.0,111.5 645.3,111.9 645.6,111.3 645.9,111.8 646.3,110.6 646.6,110.6 646.9,110.6 647.2,109.7 647.6,109.7 647.9,110.9 648.2,109.5 648.5,109.9 648.9,108.7 649.2,107.9 649.5,108.9 649.8,108.4 650.2,108.4 650.5,107.9 650.8,107.6 651.1,107.2 651.5,107.9 651.8,106.7 652.1,107.5 652.4,106.8 652.7,106.3 653.1,106.3 653.4,106.8 653.7,106.6 654.0,106.3 654.4,106.0 654.7,105.4 655.0,106.3 655.3,105.4 655.7,105.2 656.0,105.1 656.3,105.0 656.6,104.4 657.0,104.7 657.3,104.3 657.6,104.3 657.9,103.6 658.2,104.9 658.6,103.3 658.9,103.7 659.2,103.5 659.5,122.4 659.9,147.7 660.2,166.2 660.5,172.4 660.8,175.8 661.2,179.7 661.5,181.5 661.8,184.5 662.1,187.0 662.5,189.2 662.8,191.1 663.1,193.0 663.4,194.4 663.8,195.7 664.1,197.3 664.4,199.1 664.7,199.9 665.0,201.3 665.4,201.9 665.7,202.1 666.0,203.5 666.3,204.7 666.7,206.0 667.0,206.6 667.3,207.4 667.6,207.1 668.0,208.3 668.3,208.5 668.6,209.4 668.9,209.6 669.3,209.6 669.6,210.9 669.9,211.3 670.2,212.0 670.6,211.7 670.9,213.0 671.2,213.4 671.5,214.0 671.8,214.4 672.2,214.0 672.5,213.6 672.8,215.4 673.1,215.0 673.5,215.6 673.8,216.5 674.1,216.5 674.4,216.8 674.8,217.4 675.1,216.6 675.4,218.5 675.7,217.9 676.1,218.2 676.4,218.8 676.7,218.9 677.0,218.8 677.4,219.4 677.7,219.6 678.0,219.8 678.3,221.2 678.6,220.1 679.0,220.0 679.3,220.8 679.6,221.1 679.9,222.4 680.3,222.1 680.6,222.7 680.9,222.9 681.2,222.5 681.6,223.5 681.9,223.5 682.2,224.5 682.5,224.0 682.9,224.2 683.2,224.8 683.5,225.0 683.8,224.2 684.1,225.7 684.5,225.8 684.8,226.0" fill="none" stroke="#cc0000" stroke-width="2.0" stroke-linejoin="round" stroke-linecap="butt" />
</g>
<rect x="406.0" y="32.0" width="277.5" height="212.4" fill="none" stroke="#1c1c1c" stroke-width="1.0"/>
<path d="M408.80,244.4v4.2 M473.55,244.4v4.2 M538.30,244.4v4.2 M603.05,244.4v4.2 M667.80,244.4v4.2" stroke="#1c1c1c" stroke-width="1.1" fill="none"/>
<path d="M441.18,244.4v2.2 M505.93,244.4v2.2 M570.67,244.4v2.2 M635.42,244.4v2.2" stroke="#1c1c1c" stroke-width="1.1" fill="none"/>
<path d="M406.0,234.70h-4.2 M406.0,133.45h-4.2 M406.0,32.20h-4.2" stroke="#1c1c1c" stroke-width="1.1" fill="none"/>
<path d="M406.0,184.07h-2.2 M406.0,82.82h-2.2" stroke="#1c1c1c" stroke-width="1.1" fill="none"/>
<text x="408.8" y="266.6" font-size="19.3" text-anchor="middle" fill="#000" >0</text>
<text x="473.6" y="266.6" font-size="19.3" text-anchor="middle" fill="#000" >20</text>
<text x="538.3" y="266.6" font-size="19.3" text-anchor="middle" fill="#000" >40</text>
<text x="603.0" y="266.6" font-size="19.3" text-anchor="middle" fill="#000" >60</text>
<text x="667.8" y="266.6" font-size="19.3" text-anchor="middle" fill="#000" >80</text>
<text x="399.5" y="240.1" font-size="19.3" text-anchor="end" fill="#000" >0</text>
<text x="399.5" y="138.8" font-size="19.3" text-anchor="end" fill="#000" >1</text>
<text x="399.5" y="37.6" font-size="19.3" text-anchor="end" fill="#000" >2</text>
<text x="544.8" y="301.3" font-size="21" text-anchor="middle" fill="#000" >Time (s)</text>
<text transform="translate(382.2,258.6) rotate(-90)" font-size="21" text-anchor="start" fill="#000" textLength="240" lengthAdjust="spacingAndGlyphs">Curretn Density <tspan font-weight="bold">(</tspan>µA cm<tspan font-size="13.2" dy="-9.3">-2</tspan><tspan dy="9.3"><tspan font-weight="bold">)</tspan></tspan></text>
<text x="353.9" y="19.0" font-size="26" text-anchor="start" fill="#000" >b</text>
<path d="M444,47.7H488" stroke="#cc0000" stroke-width="1.8"/>
<path d="M444,76.1H488" stroke="#555555" stroke-width="1.8"/>
<text x="492.8" y="54.6" font-size="18.8" text-anchor="start" fill="#000" >Au-CeO<tspan font-size="12.5" dy="4.7">2</tspan><tspan dy="-4.7">-300</tspan></text>
<text x="493.4" y="82.9" font-size="18.8" text-anchor="start" fill="#000" >CeO<tspan font-size="12.5" dy="4.7">2</tspan></text>
<rect x="48.4" y="323.3" width="277.6" height="212.49999999999994" fill="none" stroke="#1c1c1c" stroke-width="1.0"/>
<path d="M72.90,525.60L83.15,525.60 M92.75,525.60L103.00,525.60 M112.60,525.60L122.85,525.60 M132.45,525.60L142.70,525.60 M152.30,525.60L162.55,525.60 M172.15,525.60L182.40,525.60 M192.00,525.60L202.25,525.60 M211.85,525.60L222.10,525.60 M231.70,525.60L241.95,525.60 M251.55,525.60L261.80,525.60 M271.40,525.60L281.65,525.60 M291.25,525.60L301.50,525.60" stroke="#555555" stroke-width="1.8" fill="none"/>
<polygon points="68.10,520.30 69.37,523.95 73.24,524.03 70.15,526.37 71.27,530.07 68.10,527.86 64.93,530.07 66.05,526.37 62.96,524.03 66.83,523.95" fill="#555555" stroke="#fff" stroke-width="0.6" paint-order="stroke"/>
<polygon points="87.95,520.30 89.22,523.95 93.09,524.03 90.00,526.37 91.12,530.07 87.95,527.86 84.78,530.07 85.90,526.37 82.81,524.03 86.68,523.95" fill="#555555" stroke="#fff" stroke-width="0.6" paint-order="stroke"/>
<polygon points="107.80,520.30 109.07,523.95 112.94,524.03 109.85,526.37 110.97,530.07 107.80,527.86 104.63,530.07 105.75,526.37 102.66,524.03 106.53,523.95" fill="#555555" stroke="#fff" stroke-width="0.6" paint-order="stroke"/>
<polygon points="127.65,520.30 128.92,523.95 132.79,524.03 129.70,526.37 130.82,530.07 127.65,527.86 124.48,530.07 125.60,526.37 122.51,524.03 126.38,523.95" fill="#555555" stroke="#fff" stroke-width="0.6" paint-order="stroke"/>
<polygon points="147.50,520.30 148.77,523.95 152.64,524.03 149.55,526.37 150.67,530.07 147.50,527.86 144.33,530.07 145.45,526.37 142.36,524.03 146.23,523.95" fill="#555555" stroke="#fff" stroke-width="0.6" paint-order="stroke"/>
<polygon points="167.35,520.30 168.62,523.95 172.49,524.03 169.40,526.37 170.52,530.07 167.35,527.86 164.18,530.07 165.30,526.37 162.21,524.03 166.08,523.95" fill="#555555" stroke="#fff" stroke-width="0.6" paint-order="stroke"/>
<polygon points="187.20,520.30 188.47,523.95 192.34,524.03 189.25,526.37 190.37,530.07 187.20,527.86 184.03,530.07 185.15,526.37 182.06,524.03 185.93,523.95" fill="#555555" stroke="#fff" stroke-width="0.6" paint-order="stroke"/>
<polygon points="207.05,520.30 208.32,523.95 212.19,524.03 209.10,526.37 210.22,530.07 207.05,527.86 203.88,530.07 205.00,526.37 201.91,524.03 205.78,523.95" fill="#555555" stroke="#fff" stroke-width="0.6" paint-order="stroke"/>
<polygon points="226.90,520.30 228.17,523.95 232.04,524.03 228.95,526.37 230.07,530.07 226.90,527.86 223.73,530.07 224.85,526.37 221.76,524.03 225.63,523.95" fill="#555555" stroke="#fff" stroke-width="0.6" paint-order="stroke"/>
<polygon points="246.75,520.30 248.02,523.95 251.89,524.03 248.80,526.37 249.92,530.07 246.75,527.86 243.58,530.07 244.70,526.37 241.61,524.03 245.48,523.95" fill="#555555" stroke="#fff" stroke-width="0.6" paint-order="stroke"/>
<polygon points="266.60,520.30 267.87,523.95 271.74,524.03 268.65,526.37 269.77,530.07 266.60,527.86 263.43,530.07 264.55,526.37 261.46,524.03 265.33,523.95" fill="#555555" stroke="#fff" stroke-width="0.6" paint-order="stroke"/>
<polygon points="286.45,520.30 287.72,523.95 291.59,524.03 288.50,526.37 289.62,530.07 286.45,527.86 283.28,530.07 284.40,526.37 281.31,524.03 285.18,523.95" fill="#555555" stroke="#fff" stroke-width="0.6" paint-order="stroke"/>
<polygon points="306.30,520.30 307.57,523.95 311.44,524.03 308.35,526.37 309.47,530.07 306.30,527.86 303.13,530.07 304.25,526.37 301.16,524.03 305.03,523.95" fill="#555555" stroke="#fff" stroke-width="0.6" paint-order="stroke"/>
<path d="M71.35,522.07L84.70,507.55 M92.40,502.22L103.35,497.82 M111.66,493.18L123.79,484.22 M131.87,479.08L143.28,472.89 M151.79,468.45L163.06,462.80 M171.67,458.55L182.88,453.13 M190.99,448.09L203.26,438.57 M211.50,433.81L222.45,429.34 M230.88,424.85L242.77,416.82 M250.33,410.94L263.02,399.64 M270.16,393.23L282.89,381.72 M290.33,375.68L302.42,366.91" stroke="#cc0000" stroke-width="1.8" fill="none"/>
<polygon points="68.10,520.30 69.37,523.95 73.24,524.03 70.15,526.37 71.27,530.07 68.10,527.86 64.93,530.07 66.05,526.37 62.96,524.03 66.83,523.95" fill="#cc0000" stroke="#fff" stroke-width="0.6" paint-order="stroke"/>
<polygon points="87.95,498.72 89.22,502.37 93.09,502.45 90.00,504.78 91.12,508.48 87.95,506.28 84.78,508.48 85.90,504.78 82.81,502.45 86.68,502.37" fill="#cc0000" stroke="#fff" stroke-width="0.6" paint-order="stroke"/>
<polygon points="107.80,490.73 109.07,494.38 112.94,494.46 109.85,496.80 110.97,500.50 107.80,498.29 104.63,500.50 105.75,496.80 102.66,494.46 106.53,494.38" fill="#cc0000" stroke="#fff" stroke-width="0.6" paint-order="stroke"/>
<polygon points="127.65,476.07 128.92,479.72 132.79,479.80 129.70,482.14 130.82,485.84 127.65,483.63 124.48,485.84 125.60,482.14 122.51,479.80 126.38,479.72" fill="#cc0000" stroke="#fff" stroke-width="0.6" paint-order="stroke"/>
<polygon points="147.50,465.30 148.77,468.95 152.64,469.03 149.55,471.37 150.67,475.07 147.50,472.86 144.33,475.07 145.45,471.37 142.36,469.03 146.23,468.95" fill="#cc0000" stroke="#fff" stroke-width="0.6" paint-order="stroke"/>
<polygon points="167.35,455.34 168.62,459.00 172.49,459.07 169.40,461.41 170.52,465.11 167.35,462.90 164.18,465.11 165.30,461.41 162.21,459.07 166.08,459.00" fill="#cc0000" stroke="#fff" stroke-width="0.6" paint-order="stroke"/>
<polygon points="187.20,445.74 188.47,449.39 192.34,449.47 189.25,451.81 190.37,455.51 187.20,453.30 184.03,455.51 185.15,451.81 182.06,449.47 185.93,449.39" fill="#cc0000" stroke="#fff" stroke-width="0.6" paint-order="stroke"/>
<polygon points="207.05,430.32 208.32,433.97 212.19,434.05 209.10,436.39 210.22,440.09 207.05,437.88 203.88,440.09 205.00,436.39 201.91,434.05 205.78,433.97" fill="#cc0000" stroke="#fff" stroke-width="0.6" paint-order="stroke"/>
<polygon points="226.90,422.23 228.17,425.89 232.04,425.96 228.95,428.30 230.07,432.00 226.90,429.79 223.73,432.00 224.85,428.30 221.76,425.96 225.63,425.89" fill="#cc0000" stroke="#fff" stroke-width="0.6" paint-order="stroke"/>
<polygon points="246.75,408.84 248.02,412.49 251.89,412.57 248.80,414.90 249.92,418.61 246.75,416.40 243.58,418.61 244.70,414.90 241.61,412.57 245.48,412.49" fill="#cc0000" stroke="#fff" stroke-width="0.6" paint-order="stroke"/>
<polygon points="266.60,391.14 267.87,394.80 271.74,394.88 268.65,397.21 269.77,400.91 266.60,398.70 263.43,400.91 264.55,397.21 261.46,394.88 265.33,394.80" fill="#cc0000" stroke="#fff" stroke-width="0.6" paint-order="stroke"/>
<polygon points="286.45,373.20 287.72,376.85 291.59,376.93 288.50,379.27 289.62,382.97 286.45,380.76 283.28,382.97 284.40,379.27 281.31,376.93 285.18,376.85" fill="#cc0000" stroke="#fff" stroke-width="0.6" paint-order="stroke"/>
<polygon points="306.30,358.79 307.57,362.45 311.44,362.52 308.35,364.86 309.47,368.56 306.30,366.35 303.13,368.56 304.25,364.86 301.16,362.52 305.03,362.45" fill="#cc0000" stroke="#fff" stroke-width="0.6" paint-order="stroke"/>
<path d="M68.10,535.8v4.2 M107.80,535.8v4.2 M147.50,535.8v4.2 M187.20,535.8v4.2 M226.90,535.8v4.2 M266.60,535.8v4.2 M306.30,535.8v4.2" stroke="#1c1c1c" stroke-width="1.1" fill="none"/>
<path d="M87.95,535.8v2.2 M127.65,535.8v2.2 M167.35,535.8v2.2 M207.05,535.8v2.2 M246.75,535.8v2.2 M286.45,535.8v2.2" stroke="#1c1c1c" stroke-width="1.1" fill="none"/>
<path d="M48.4,525.60h-4.2 M48.4,475.05h-4.2 M48.4,424.50h-4.2 M48.4,373.95h-4.2 M48.4,323.40h-4.2" stroke="#1c1c1c" stroke-width="1.1" fill="none"/>
<path d="M48.4,500.33h-2.2 M48.4,449.78h-2.2 M48.4,399.23h-2.2 M48.4,348.68h-2.2" stroke="#1c1c1c" stroke-width="1.1" fill="none"/>
<text x="68.1" y="558.4" font-size="19.3" text-anchor="middle" fill="#000" >0</text>
<text x="107.8" y="558.4" font-size="19.3" text-anchor="middle" fill="#000" >10</text>
<text x="147.5" y="558.4" font-size="19.3" text-anchor="middle" fill="#000" >20</text>
<text x="187.2" y="558.4" font-size="19.3" text-anchor="middle" fill="#000" >30</text>
<text x="226.9" y="558.4" font-size="19.3" text-anchor="middle" fill="#000" >40</text>
<text x="266.6" y="558.4" font-size="19.3" text-anchor="middle" fill="#000" >50</text>
<text x="306.3" y="558.4" font-size="19.3" text-anchor="middle" fill="#000" >60</text>
<text x="42.0" y="531.0" font-size="19.3" text-anchor="end" fill="#000" >0</text>
<text x="42.0" y="480.4" font-size="19.3" text-anchor="end" fill="#000" >1</text>
<text x="42.0" y="429.9" font-size="19.3" text-anchor="end" fill="#000" >2</text>
<text x="42.0" y="379.4" font-size="19.3" text-anchor="end" fill="#000" >3</text>
<text x="42.0" y="328.8" font-size="19.3" text-anchor="end" fill="#000" >4</text>
<text x="187.3" y="593.3" font-size="21" text-anchor="middle" fill="#000" >Time (min)</text>
<text transform="translate(24.5,532.4) rotate(-90)" font-size="21" text-anchor="start" fill="#000" textLength="206.5" lengthAdjust="spacingAndGlyphs">Peak Area <tspan font-weight="bold">(</tspan>arb. units<tspan font-weight="bold">)</tspan></text>
<text x="-0.3" y="322.3" font-size="26" text-anchor="start" fill="#000" >c</text>
<text x="251.1" y="347.9" font-size="19.0" text-anchor="start" fill="#000" >HCOO</text>
<rect x="309.9" y="339.8" width="2.9" height="3.1" fill="#000"/>
<path d="M60.3,362.1H104.5" stroke="#cc0000" stroke-width="1.8"/>
<polygon points="82.20,357.40 83.35,360.71 86.86,360.79 84.06,362.91 85.08,366.26 82.20,364.26 79.32,366.26 80.34,362.91 77.54,360.79 81.05,360.71" fill="#cc0000"/>
<path d="M60.3,390.2H104.5" stroke="#555555" stroke-width="1.8"/>
<polygon points="82.20,385.50 83.35,388.81 86.86,388.89 84.06,391.01 85.08,394.36 82.20,392.36 79.32,394.36 80.34,391.01 77.54,388.89 81.05,388.81" fill="#555555"/>
<text x="109.4" y="368.6" font-size="18.8" text-anchor="start" fill="#000" >Au-CeO<tspan font-size="12.5" dy="4.7">2</tspan><tspan dy="-4.7">-300</tspan></text>
<text x="109.8" y="396.7" font-size="18.8" text-anchor="start" fill="#000" >CeO<tspan font-size="12.5" dy="4.7">2</tspan></text>
<rect x="406.7" y="325.0" width="277.8" height="212.39999999999998" fill="none" stroke="#1c1c1c" stroke-width="1.0"/>
<polyline points="426.7,524.9 446.5,481.4 466.3,468.1 486.2,455.8 506.0,438.5 525.8,433.7 545.6,425.0 565.5,412.8 585.3,404.0 605.1,393.0 625.0,380.9 644.8,377.9 664.6,371.1" fill="none" stroke="#555555" stroke-width="2.0" stroke-linejoin="round" stroke-linecap="butt" />
<circle cx="426.70" cy="524.90" r="5.0" fill="#fff"/><circle cx="426.70" cy="524.90" r="4.2" fill="#555555"/>
<circle cx="446.52" cy="481.39" r="5.0" fill="#fff"/><circle cx="446.52" cy="481.39" r="4.2" fill="#555555"/>
<circle cx="466.35" cy="468.11" r="5.0" fill="#fff"/><circle cx="466.35" cy="468.11" r="4.2" fill="#555555"/>
<circle cx="486.17" cy="455.82" r="5.0" fill="#fff"/><circle cx="486.17" cy="455.82" r="4.2" fill="#555555"/>
<circle cx="506.00" cy="438.49" r="5.0" fill="#fff"/><circle cx="506.00" cy="438.49" r="4.2" fill="#555555"/>
<circle cx="525.83" cy="433.69" r="5.0" fill="#fff"/><circle cx="525.83" cy="433.69" r="4.2" fill="#555555"/>
<circle cx="545.65" cy="425.00" r="5.0" fill="#fff"/><circle cx="545.65" cy="425.00" r="4.2" fill="#555555"/>
<circle cx="565.48" cy="412.81" r="5.0" fill="#fff"/><circle cx="565.48" cy="412.81" r="4.2" fill="#555555"/>
<circle cx="585.30" cy="404.02" r="5.0" fill="#fff"/><circle cx="585.30" cy="404.02" r="4.2" fill="#555555"/>
<circle cx="605.12" cy="393.03" r="5.0" fill="#fff"/><circle cx="605.12" cy="393.03" r="4.2" fill="#555555"/>
<circle cx="624.95" cy="380.89" r="5.0" fill="#fff"/><circle cx="624.95" cy="380.89" r="4.2" fill="#555555"/>
<circle cx="644.77" cy="377.90" r="5.0" fill="#fff"/><circle cx="644.77" cy="377.90" r="4.2" fill="#555555"/>
<circle cx="664.60" cy="371.05" r="5.0" fill="#fff"/><circle cx="664.60" cy="371.05" r="4.2" fill="#555555"/>
<polyline points="426.7,524.9 446.5,524.9 466.3,524.9 486.2,524.9 506.0,521.9 525.8,516.3 545.6,515.1 565.5,497.2 585.3,499.8 605.1,489.4 625.0,465.3 644.8,452.5 664.6,444.2" fill="none" stroke="#cc0000" stroke-width="2.0" stroke-linejoin="round" stroke-linecap="butt" />
<circle cx="426.70" cy="524.90" r="5.0" fill="#fff"/><circle cx="426.70" cy="524.90" r="4.2" fill="#cc0000"/>
<circle cx="446.52" cy="524.90" r="5.0" fill="#fff"/><circle cx="446.52" cy="524.90" r="4.2" fill="#cc0000"/>
<circle cx="466.35" cy="524.90" r="5.0" fill="#fff"/><circle cx="466.35" cy="524.90" r="4.2" fill="#cc0000"/>
<circle cx="486.17" cy="524.90" r="5.0" fill="#fff"/><circle cx="486.17" cy="524.90" r="4.2" fill="#cc0000"/>
<circle cx="506.00" cy="521.90" r="5.0" fill="#fff"/><circle cx="506.00" cy="521.90" r="4.2" fill="#cc0000"/>
<circle cx="525.83" cy="516.31" r="5.0" fill="#fff"/><circle cx="525.83" cy="516.31" r="4.2" fill="#cc0000"/>
<circle cx="545.65" cy="515.06" r="5.0" fill="#fff"/><circle cx="545.65" cy="515.06" r="4.2" fill="#cc0000"/>
<circle cx="565.48" cy="497.23" r="5.0" fill="#fff"/><circle cx="565.48" cy="497.23" r="4.2" fill="#cc0000"/>
<circle cx="585.30" cy="499.78" r="5.0" fill="#fff"/><circle cx="585.30" cy="499.78" r="4.2" fill="#cc0000"/>
<circle cx="605.12" cy="489.44" r="5.0" fill="#fff"/><circle cx="605.12" cy="489.44" r="4.2" fill="#cc0000"/>
<circle cx="624.95" cy="465.31" r="5.0" fill="#fff"/><circle cx="624.95" cy="465.31" r="4.2" fill="#cc0000"/>
<circle cx="644.77" cy="452.47" r="5.0" fill="#fff"/><circle cx="644.77" cy="452.47" r="4.2" fill="#cc0000"/>
<circle cx="664.60" cy="444.23" r="5.0" fill="#fff"/><circle cx="664.60" cy="444.23" r="4.2" fill="#cc0000"/>
<path d="M426.70,537.4v4.2 M466.35,537.4v4.2 M506.00,537.4v4.2 M545.65,537.4v4.2 M585.30,537.4v4.2 M624.95,537.4v4.2 M664.60,537.4v4.2" stroke="#1c1c1c" stroke-width="1.1" fill="none"/>
<path d="M446.52,537.4v2.2 M486.17,537.4v2.2 M525.83,537.4v2.2 M565.48,537.4v2.2 M605.12,537.4v2.2 M644.77,537.4v2.2" stroke="#1c1c1c" stroke-width="1.1" fill="none"/>
<path d="M406.7,524.90h-4.2 M406.7,474.95h-4.2 M406.7,425.00h-4.2 M406.7,375.05h-4.2 M406.7,325.10h-4.2" stroke="#1c1c1c" stroke-width="1.1" fill="none"/>
<path d="M406.7,499.92h-2.2 M406.7,449.97h-2.2 M406.7,400.02h-2.2 M406.7,350.07h-2.2" stroke="#1c1c1c" stroke-width="1.1" fill="none"/>
<text x="426.7" y="560.3" font-size="19.3" text-anchor="middle" fill="#000" >0</text>
<text x="466.3" y="560.3" font-size="19.3" text-anchor="middle" fill="#000" >10</text>
<text x="506.0" y="560.3" font-size="19.3" text-anchor="middle" fill="#000" >20</text>
<text x="545.6" y="560.3" font-size="19.3" text-anchor="middle" fill="#000" >30</text>
<text x="585.3" y="560.3" font-size="19.3" text-anchor="middle" fill="#000" >40</text>
<text x="625.0" y="560.3" font-size="19.3" text-anchor="middle" fill="#000" >50</text>
<text x="664.6" y="560.3" font-size="19.3" text-anchor="middle" fill="#000" >60</text>
<text x="400.5" y="530.3" font-size="19.3" text-anchor="end" fill="#000" >0</text>
<text x="400.5" y="480.3" font-size="19.3" text-anchor="end" fill="#000" >1</text>
<text x="400.5" y="430.4" font-size="19.3" text-anchor="end" fill="#000" >2</text>
<text x="400.5" y="380.4" font-size="19.3" text-anchor="end" fill="#000" >3</text>
<text x="400.5" y="330.5" font-size="19.3" text-anchor="end" fill="#000" >4</text>
<text x="545.85" y="594.7" font-size="21" text-anchor="middle" fill="#000" >Time (min)</text>
<text transform="translate(382.0,534.0) rotate(-90)" font-size="21" text-anchor="start" fill="#000" textLength="206.5" lengthAdjust="spacingAndGlyphs">Peak Area (arb. units)</text>
<text x="353.9" y="322.7" font-size="26" text-anchor="start" fill="#000" >d</text>
<text x="637.2" y="349.9" font-size="19.4" text-anchor="start" fill="#000" >CO<tspan font-size="12.8" dy="4.8">2</tspan></text>
<path d="M419.1,350.3H463.4" stroke="#555555" stroke-width="1.8"/>
<circle cx="441.0" cy="350.3" r="3.9" fill="#555555"/>
<path d="M419.1,378.4H463.4" stroke="#cc0000" stroke-width="1.8"/>
<circle cx="441.0" cy="378.4" r="3.9" fill="#cc0000"/>
<text x="468.6" y="356.5" font-size="18.8" text-anchor="start" fill="#000" >CeO<tspan font-size="12.5" dy="4.7">2</tspan></text>
<text x="468.2" y="384.2" font-size="18.8" text-anchor="start" fill="#000" >Au-CeO<tspan font-size="12.5" dy="4.7">2</tspan><tspan dy="-4.7">-300</tspan></text>
</svg>
</body></html>
